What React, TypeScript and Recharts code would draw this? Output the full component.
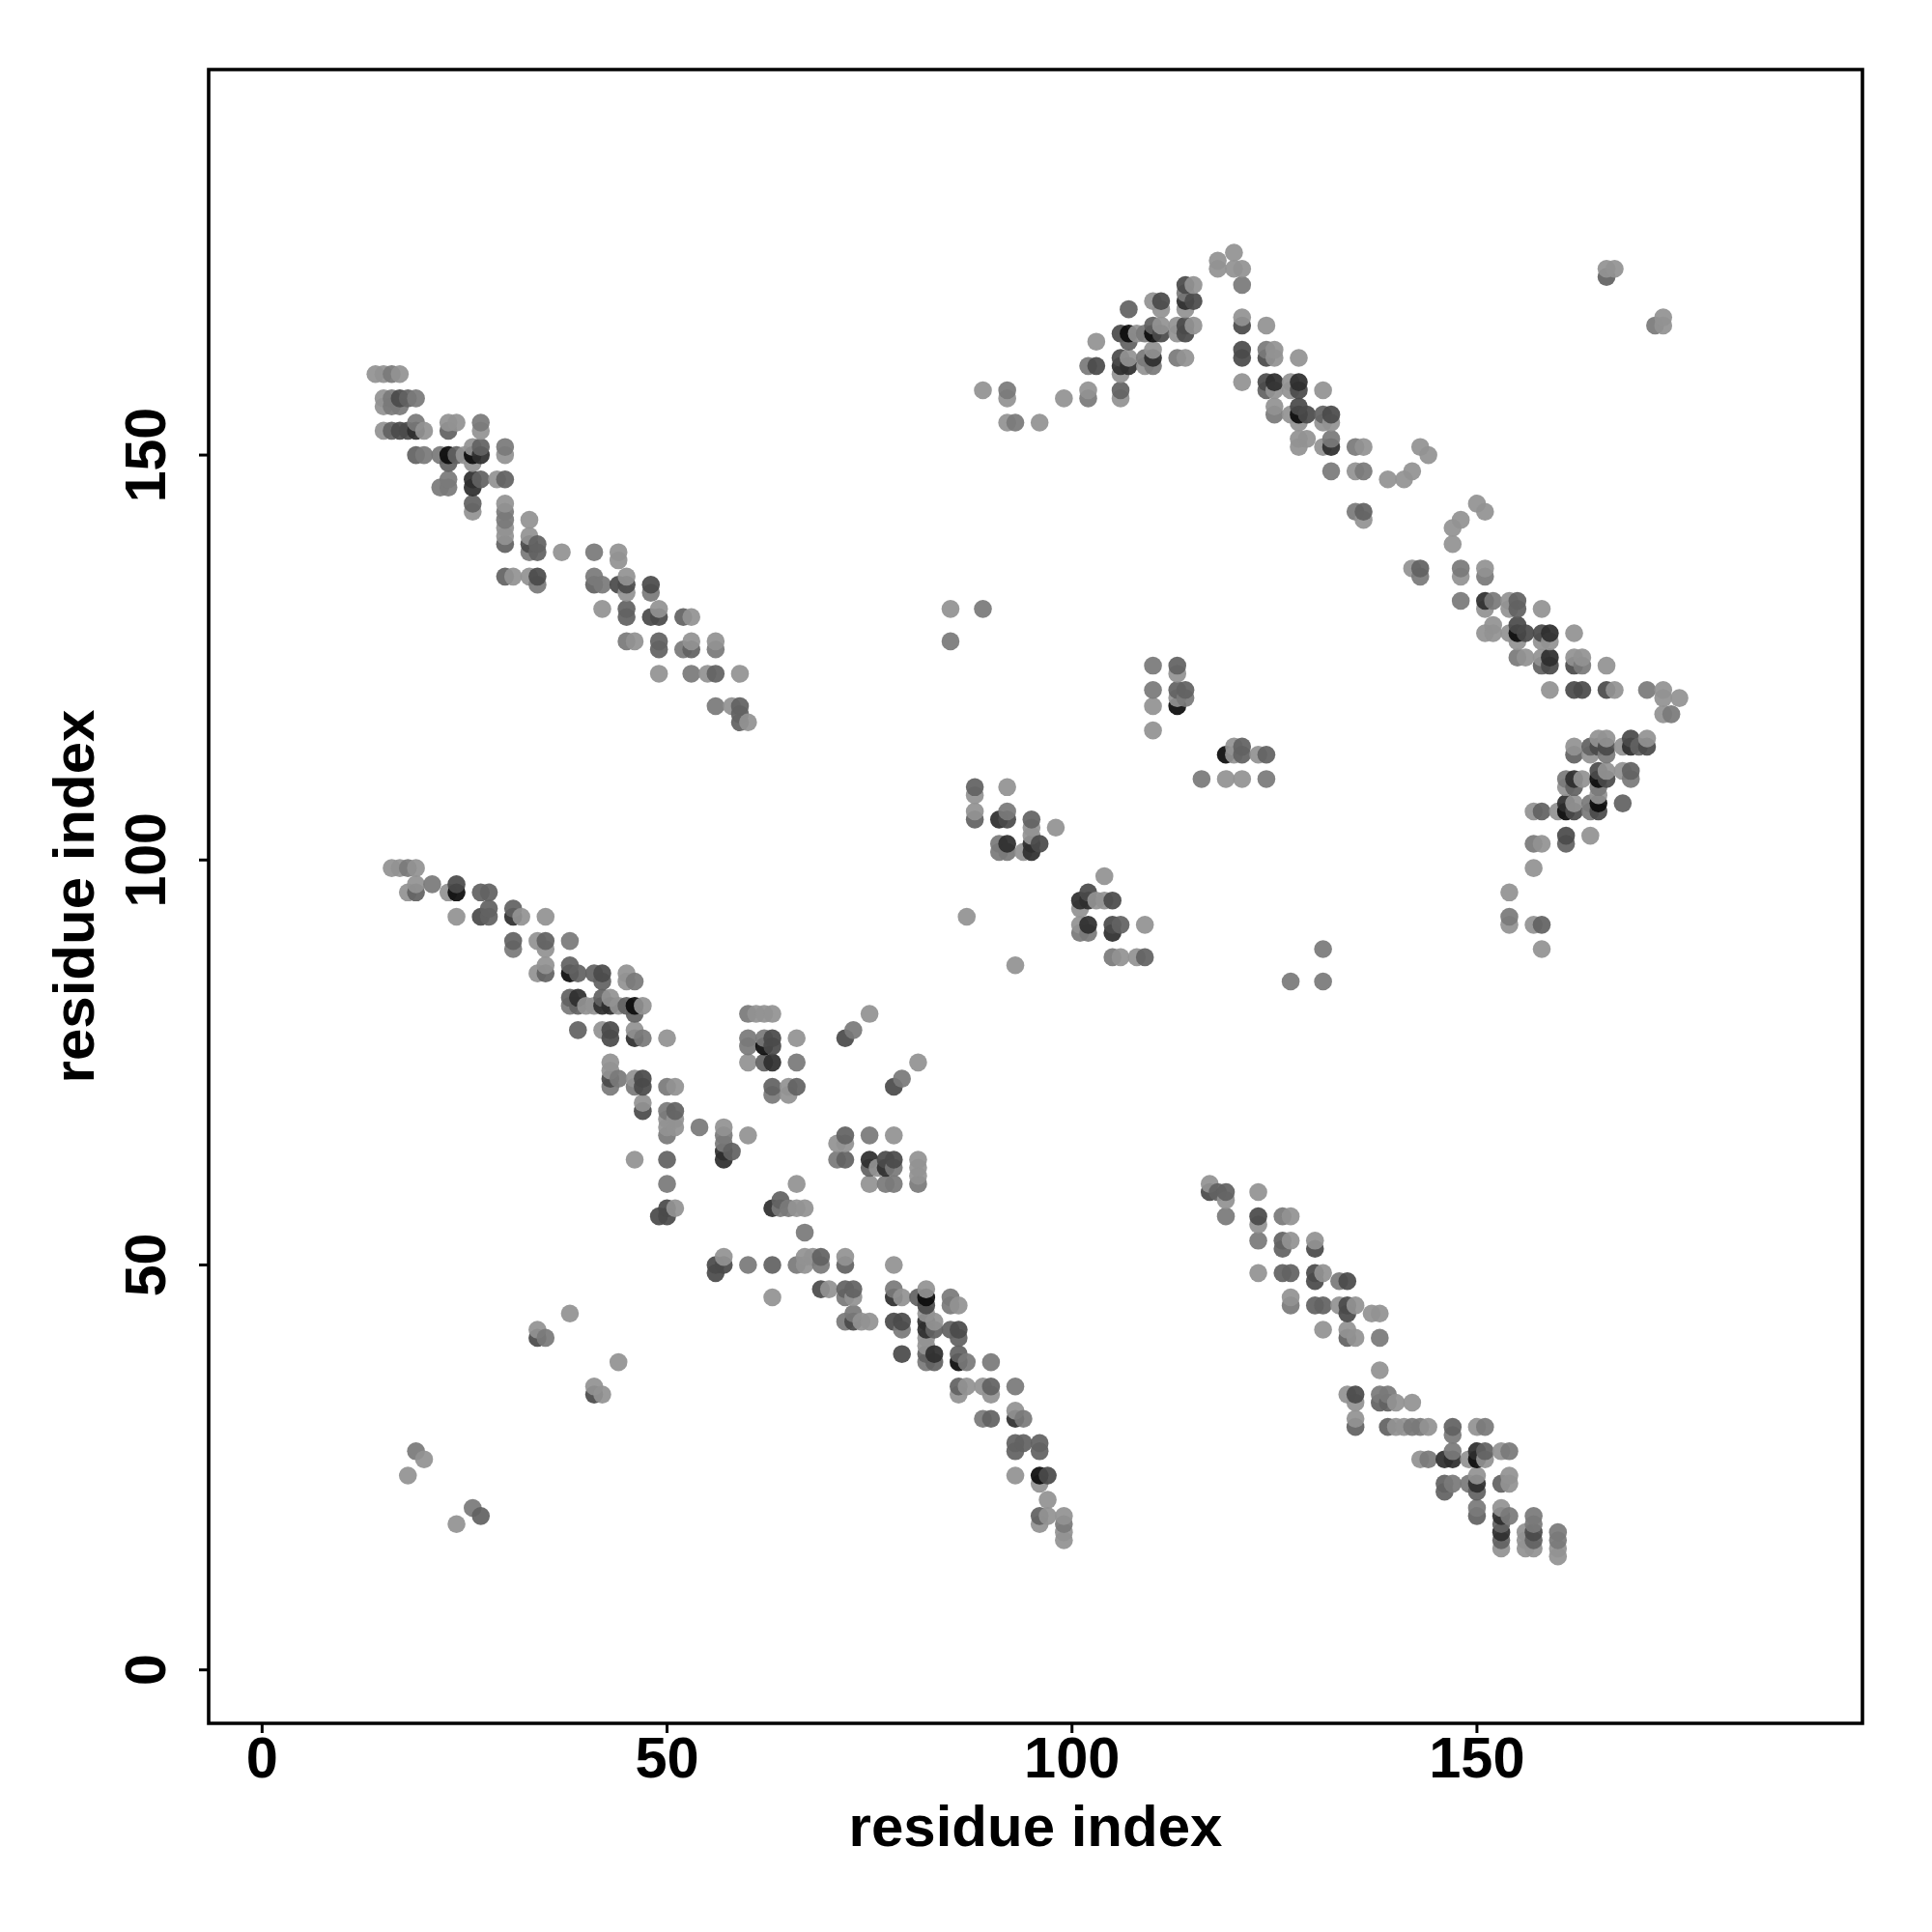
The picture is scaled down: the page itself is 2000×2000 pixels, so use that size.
import { ScatterChart, Scatter, XAxis, YAxis, ZAxis, ReferenceArea, Label } from 'recharts';

// each contact is [residue i, residue j, strength] where strength runs 1 (weak) to 6 (strong)
type Contact = [number, number, number];

const xTicks = [0, 50, 100, 150];
const yTicks = [0, 50, 100, 150];
const axisDomain = [-6.6, 197.6];
const axisTitle = 'residue index';

const SHADES = ['#929292', '#7a7a7a', '#626262', '#4a4a4a', '#2e2e2e', '#0c0c0c'];

const upperLeftBand: Contact[] = [
  [14,160,1],[15,160,1],[16,160,2],[17,160,1],
  [15,157,1],[16,157,2],[17,157,4],[18,157,3],[19,157,2],[15,156,1],[16,156,2],[17,156,2],
  [15,153,1],[16,153,3],[17,153,4],[18,153,4],[19,153,5],[20,153,1],[19,154,2],
  [23,154,1],[24,154,1],[23,153,3],[27,154,2],[27,153,1],
  [19,150,3],[20,150,2],[22,150,2],[23,150,6],[24,150,3],[25,150,1],[26,150,6],[27,150,5],
  [26,151,1],[27,151,3],[30,151,2],[30,150,1],[23,149,3],[26,149,1],
  [23,147,2],[26,147,5],[27,147,3],[29,147,1],[30,147,3],
  [22,146,2],[23,146,2],[26,146,5],[26,144,3],[26,143,1],
  [30,144,1],[30,143,2],[30,142,2],[30,141,1],[30,140,1],[30,139,3],
  [33,142,1],[33,140,1],[33,139,4],[33,138,2],[34,139,3],[34,138,3],
  [37,138,1],[41,138,2],[44,138,1],[44,137,1],
  [30,135,3],[31,135,1],[33,135,1],[34,135,4],[34,134,2],
  [41,135,2],[41,134,3],[42,134,2],[44,134,4],[45,134,4],[45,135,1],[45,133,1],[48,134,4],[48,133,2],
  [42,131,1],[45,131,3],[45,130,3],[49,131,1],[48,130,4],[49,130,4],[52,130,3],[53,130,1],
  [45,127,2],[46,127,1],[49,127,3],[49,126,3],[52,126,2],[53,127,1],[53,126,3],[56,127,1],[56,126,2],
  [49,123,1],[53,123,2],[55,123,1],[56,123,3],[59,123,1],
  [56,119,2],[58,119,1],[59,119,3],[59,118,3],[59,117,3],[60,117,1],
];

const lowerLeftBand: Contact[] = [
  [16,99,1],[17,99,1],[18,99,2],[19,99,1],
  [19,97,1],[21,97,2],[24,97,4],[18,96,1],[19,96,3],[23,96,1],[24,96,6],[27,96,3],[28,96,3],
  [28,94,3],[31,94,3],[24,93,1],[27,93,4],[28,93,3],[31,93,5],[32,93,1],[35,93,1],
  [31,90,3],[34,90,1],[35,90,3],[38,90,2],[31,89,2],[35,89,1],
  [35,87,1],[38,87,3],[34,86,1],[35,86,3],[38,86,6],[39,86,3],[41,86,3],[42,86,4],[45,86,1],
  [42,85,3],[45,85,1],[46,85,2],
  [38,83,3],[39,83,5],[42,83,3],[43,83,1],
  [38,82,2],[39,82,3],[40,82,1],[41,82,1],[42,82,5],[43,82,5],[44,82,1],[45,82,3],[46,82,6],[47,82,1],[46,81,3],
  [39,79,3],[42,79,1],[43,79,4],[46,79,1],[43,78,4],[46,78,5],[47,78,2],[50,78,1],
  [43,75,1],[43,74,1],[43,73,4],[44,73,2],[43,72,2],[46,73,1],[47,73,4],[46,72,2],[47,72,4],[50,72,2],[51,72,1],
  [47,70,1],[47,69,4],[50,69,2],[51,69,3],[50,68,1],[51,68,1],[50,67,1],[51,67,1],[50,66,2],[54,67,2],
  [57,67,1],[57,66,2],[57,65,2],[57,64,5],[57,63,5],[58,64,3],[60,66,1],
  [46,63,1],[50,63,3],[50,60,2],[50,57,4],[51,57,1],[49,56,4],[50,56,4],
];

const centerBlocks: Contact[] = [
  [60,81,2],[61,81,1],[62,81,1],[63,81,1],
  [60,78,2],[60,77,2],[62,78,2],[62,77,6],[63,78,4],[63,77,4],[66,78,1],
  [60,75,1],[62,75,3],[63,75,5],[66,75,2],
  [63,72,3],[63,71,2],[65,72,1],[65,71,1],[66,72,3],
  [75,81,1],[73,79,2],[72,78,4],[81,75,1],[79,73,2],[78,72,4],
  [72,66,3],[75,66,2],[78,66,1],[71,65,1],[72,65,1],[71,63,2],[72,63,3],
  [75,63,5],[75,62,3],[76,62,1],[77,63,4],[77,62,5],[78,63,4],[78,62,2],
  [75,60,1],[77,60,2],[78,60,2],[81,63,1],[81,62,1],[81,61,1],[81,60,2],
  [66,60,1],[64,58,3],[63,57,5],[64,57,2],[65,57,2],[66,57,1],[67,57,1],[67,54,2],
];

const lowerCenterBand: Contact[] = [
  [56,50,4],[57,51,1],[56,49,4],[57,50,4],[60,50,2],[63,50,3],
  [66,50,2],[67,51,1],[67,50,1],[68,51,1],[69,51,3],[69,50,2],[72,51,1],[72,50,3],[78,50,1],
  [63,46,1],[69,47,4],[70,47,1],[72,47,3],[73,47,3],[72,46,2],[73,46,1],
  [78,47,2],[78,46,5],[79,46,1],[81,46,3],[82,47,1],[82,46,6],[82,45,4],[85,46,2],[85,45,2],[86,45,1],
  [73,44,2],[72,43,2],[73,43,4],[74,43,1],[75,43,1],[78,43,4],[79,43,4],[79,42,2],
  [82,44,1],[82,43,5],[82,42,5],[83,43,1],[83,42,3],[82,41,1],[82,40,1],
  [85,42,3],[86,42,4],[86,41,3],[79,39,4],[82,39,3],[82,38,2],[83,39,5],[83,38,3],
  [86,39,3],[86,38,6],[87,38,2],[90,38,2],
  [86,35,3],[87,35,1],[86,34,1],[89,35,1],[90,35,3],[90,34,1],[93,35,2],
  [89,31,2],[90,31,3],[93,32,1],[93,31,5],[94,31,2],
  [93,28,3],[94,28,3],[93,27,3],[96,28,3],[96,27,3],
  [93,24,1],[96,24,6],[97,24,4],[96,23,1],[97,21,1],[96,19,3],[96,18,1],[97,19,1],
  [99,19,1],[99,18,2],[99,17,1],[99,16,1],
];

const scatteredLow: Contact[] = [
  [38,44,1],[34,42,1],[34,41,4],[35,41,2],[44,38,1],[41,35,1],[41,34,4],[42,34,1],
  [19,27,2],[20,26,1],[18,24,1],[26,20,2],[27,19,3],[24,18,1],
];

const lowerRightBand: Contact[] = [
  [117,60,1],[117,59,4],[118,59,3],[119,59,3],[119,58,1],[119,56,2],[123,59,1],
  [123,56,4],[123,55,1],[126,56,2],[127,56,1],
  [123,53,2],[126,53,3],[126,52,3],[127,53,1],[130,53,1],[130,52,4],
  [123,49,1],[126,49,3],[127,49,3],[130,49,4],[131,49,1],[130,48,4],[133,48,2],[134,48,4],
  [127,46,1],[127,45,2],[130,45,3],[131,45,3],[133,45,1],[134,45,4],[135,45,1],[134,44,4],[137,44,1],[138,44,1],
  [131,42,1],[134,42,1],[134,41,3],[135,41,1],[138,41,2],[138,37,1],
  [134,34,1],[135,34,4],[135,33,1],[135,31,1],[135,30,3],
  [138,34,2],[139,34,2],[138,33,3],[139,33,3],[140,33,1],[142,33,1],
  [139,30,3],[140,30,1],[141,30,1],[142,30,2],[143,30,2],[144,30,1],[147,30,3],[147,29,2],[150,30,1],[151,30,2],
  [143,26,1],[144,26,2],[146,26,5],[147,27,2],[147,26,5],[149,26,1],[150,27,5],[150,26,6],[151,27,3],[151,26,1],[153,27,1],[154,27,2],
  [146,23,3],[147,23,2],[146,22,3],[149,23,2],[150,24,1],[150,23,5],[150,22,3],[153,23,3],[154,24,1],[154,23,1],
  [150,20,2],[150,19,3],[153,20,1],[153,19,5],[154,19,2],[153,18,3],[153,17,5],[153,16,3],[153,15,1],
  [157,19,2],[157,18,2],[157,17,4],[157,16,3],[156,17,1],[156,16,1],[156,15,1],[157,15,1],
  [160,17,2],[160,16,2],[160,15,1],[160,14,1],
];

const upperPeak: Contact[] = [
  [89,158,1],[92,158,2],[92,157,1],[92,154,1],[93,154,2],[96,154,1],[99,157,1],[102,158,1],[102,157,2],
  [103,164,1],[102,161,2],[103,161,4],[107,168,3],
  [106,165,4],[106,162,4],[106,161,5],[106,160,1],[106,158,3],[106,157,1],
  [107,165,6],[107,164,3],[107,162,1],[107,161,5],[108,165,1],[109,165,2],[109,162,2],[109,161,1],
  [110,169,1],[111,169,4],[111,168,1],[110,166,3],[110,165,6],[111,166,1],[111,165,4],[110,163,1],[110,162,5],[110,161,2],
  [113,166,1],[113,165,1],[114,166,4],[114,165,4],[115,166,1],[113,162,2],[114,162,1],
  [114,171,4],[114,170,2],[114,169,5],[114,168,1],[115,171,1],[115,169,4],
  [118,174,1],[118,173,1],[120,175,1],[120,173,1],[121,173,1],[121,171,2],[121,167,1],[121,166,4],[124,166,1],
  [121,163,4],[121,162,4],[124,163,2],[124,162,4],[125,163,1],[125,162,1],[128,162,1],[121,159,1],
  [124,159,4],[124,158,3],[125,159,5],[125,158,1],[127,159,1],[127,158,1],[128,159,5],[128,158,4],[131,158,1],
  [125,156,1],[125,155,2],[128,156,4],[127,155,1],[128,155,6],[129,155,4],[128,154,1],
  [131,155,3],[132,155,4],[131,154,1],[132,154,1],[128,152,1],[129,152,1],[128,151,1],[131,151,1],[132,152,2],[132,151,5],
  [135,151,2],[136,151,1],[132,148,2],[135,148,1],[136,148,2],[139,147,1],[141,147,1],[142,148,1],[143,151,1],[144,150,1],
  [135,143,2],[136,143,3],[136,142,1],
  [166,173,1],[167,173,1],[166,172,3],[173,167,1],[173,166,1],[172,166,2],
];

const upperRightBand: Contact[] = [
  [150,144,1],[151,143,1],[148,142,1],[147,141,1],[147,139,1],
  [142,136,1],[143,136,3],[143,135,2],[148,136,2],[148,135,1],[151,136,1],[151,135,2],
  [148,132,2],[151,132,5],[151,131,1],[152,132,2],[154,132,1],[154,131,1],[155,132,3],[155,131,3],[158,131,1],
  [151,128,1],[152,129,1],[152,128,1],[154,128,1],[155,129,4],[155,128,6],[156,128,4],[155,127,1],
  [158,128,4],[159,128,5],[158,127,1],[159,127,1],[162,128,1],
  [155,125,2],[156,125,1],[158,125,1],[159,125,5],[158,124,3],[159,124,4],
  [162,125,1],[163,125,1],[162,124,4],[163,124,2],[166,124,1],
  [159,121,1],[162,121,4],[163,121,4],[166,121,4],[167,121,1],
  [171,121,2],[173,121,1],[173,120,1],[175,120,1],[173,118,1],[174,118,2],
];

const rightArm: Contact[] = [
  [162,114,1],[162,113,3],[165,115,1],[165,114,4],[164,114,3],[164,113,1],[166,115,1],[166,114,4],[166,113,2],
  [168,114,1],[169,115,4],[169,114,5],[170,114,3],[171,115,1],[171,114,4],
  [161,110,2],[161,109,1],[162,110,5],[162,109,3],[163,110,1],
  [165,111,4],[165,110,6],[166,111,1],[166,110,4],[165,109,2],[165,108,1],
  [168,111,1],[169,111,3],[169,110,2],[168,107,3],
  [157,106,1],[158,106,3],[160,106,1],[161,107,5],[161,106,6],[162,107,1],[162,106,4],
  [164,107,2],[164,106,2],[165,107,6],[165,106,4],
  [157,102,2],[158,102,1],[161,103,4],[161,102,3],[164,103,1],
  [157,99,1],[154,96,1],[154,93,2],[154,92,1],[157,92,1],[158,92,3],[158,89,1],
];

const middleIslands: Contact[] = [
  [85,131,1],[89,131,2],[85,127,2],
  [110,124,2],[113,124,3],[113,123,1],[110,121,2],[113,121,3],[114,121,3],[113,120,1],[114,120,2],
  [110,119,1],[113,119,6],[110,116,1],
  [119,113,6],[120,114,1],[120,113,1],[121,114,3],[121,113,3],[123,113,1],[124,113,3],
  [116,110,2],[119,110,1],[121,110,1],[124,110,2],
  [88,109,3],[88,108,1],[88,106,1],[88,105,3],[92,109,1],[91,105,5],[92,106,2],[92,105,4],
  [95,105,3],[95,104,1],[95,103,1],[95,102,5],[95,101,5],[96,102,4],[94,101,1],[98,104,1],
  [91,102,2],[91,101,2],[92,102,5],[92,101,2],
  [104,98,1],[102,96,4],[101,95,5],[101,94,1],[102,95,5],[103,95,1],[104,95,1],[105,95,4],
  [101,92,1],[101,91,2],[102,92,5],[102,91,2],[105,92,4],[105,91,5],[106,92,3],[109,92,1],
  [105,88,2],[106,88,1],[108,88,1],[109,88,3],
  [93,87,1],[87,93,1],[131,89,2],[127,85,2],[131,85,2],
];

const contacts = [
  ...upperLeftBand,
  ...lowerLeftBand,
  ...centerBlocks,
  ...lowerCenterBand,
  ...scatteredLow,
  ...lowerRightBand,
  ...upperPeak,
  ...upperRightBand,
  ...rightArm,
  ...middleIslands,
]
  .sort((a, b) => a[0] - b[0] || a[1] - b[1])
  .map(([i, j, strength]) => ({ i, j, strength }));

function ContactDot({ cx, cy, payload }: any) {
  return (
    <circle
      cx={cx}
      cy={cy}
      r={9.3}
      fill={SHADES[payload.strength - 1]}
      fillOpacity={0.93}
    />
  );
}

function XTick({ x, y, payload }: any) {
  return (
    <text
      x={x}
      y={y + 46}
      textAnchor="middle"
      fontSize={59.5}
      fontWeight="bold"
      fontFamily="Liberation Sans"
      fill="#000"
    >
      {payload.value}
    </text>
  );
}

function YTick({ y, payload }: any) {
  return (
    <text
      x={171}
      y={y}
      textAnchor="middle"
      fontSize={59}
      fontWeight="bold"
      fontFamily="Liberation Sans"
      fill="#000"
      transform={`rotate(-90 171 ${y})`}
    >
      {payload.value}
    </text>
  );
}

const titleStyle = {
  fontSize: 60,
  fontWeight: 'bold',
  fontFamily: 'Liberation Sans',
  fill: '#000',
};

export default function App() {
  return (
    <div style={{ margin: -8, width: 2000, height: 2000, background: '#fff' }}>
      <ScatterChart
        width={2000}
        height={2000}
        margin={{ top: 72, right: 72, bottom: 76, left: 46 }}
      >
        <XAxis
          type="number"
          dataKey="i"
          domain={axisDomain}
          ticks={xTicks}
          allowDataOverflow
          height={140}
          axisLine={false}
          tickSize={10}
          tickMargin={0}
          tickLine={{ stroke: '#000', strokeWidth: 3 }}
          tick={<XTick />}
        >
          <Label
            value={axisTitle}
            position="insideBottom"
            offset={13}
            style={titleStyle}
          />
        </XAxis>
        <YAxis
          type="number"
          dataKey="j"
          domain={axisDomain}
          ticks={yTicks}
          allowDataOverflow
          width={170}
          axisLine={false}
          tickSize={10}
          tickMargin={0}
          tickLine={{ stroke: '#000', strokeWidth: 3 }}
          tick={<YTick />}
        >
          <Label
            value={axisTitle}
            position="insideLeft"
            angle={-90}
            offset={30}
            style={{ ...titleStyle, textAnchor: 'middle' }}
          />
        </YAxis>
        <ZAxis range={[260, 260]} />
        <ReferenceArea
          x1={axisDomain[0]}
          x2={axisDomain[1]}
          y1={axisDomain[0]}
          y2={axisDomain[1]}
          fill="none"
          stroke="#000"
          strokeWidth={3.6}
        />
        <Scatter
          data={contacts}
          isAnimationActive={false}
          shape={<ContactDot />}
        />
      </ScatterChart>
    </div>
  );
}
